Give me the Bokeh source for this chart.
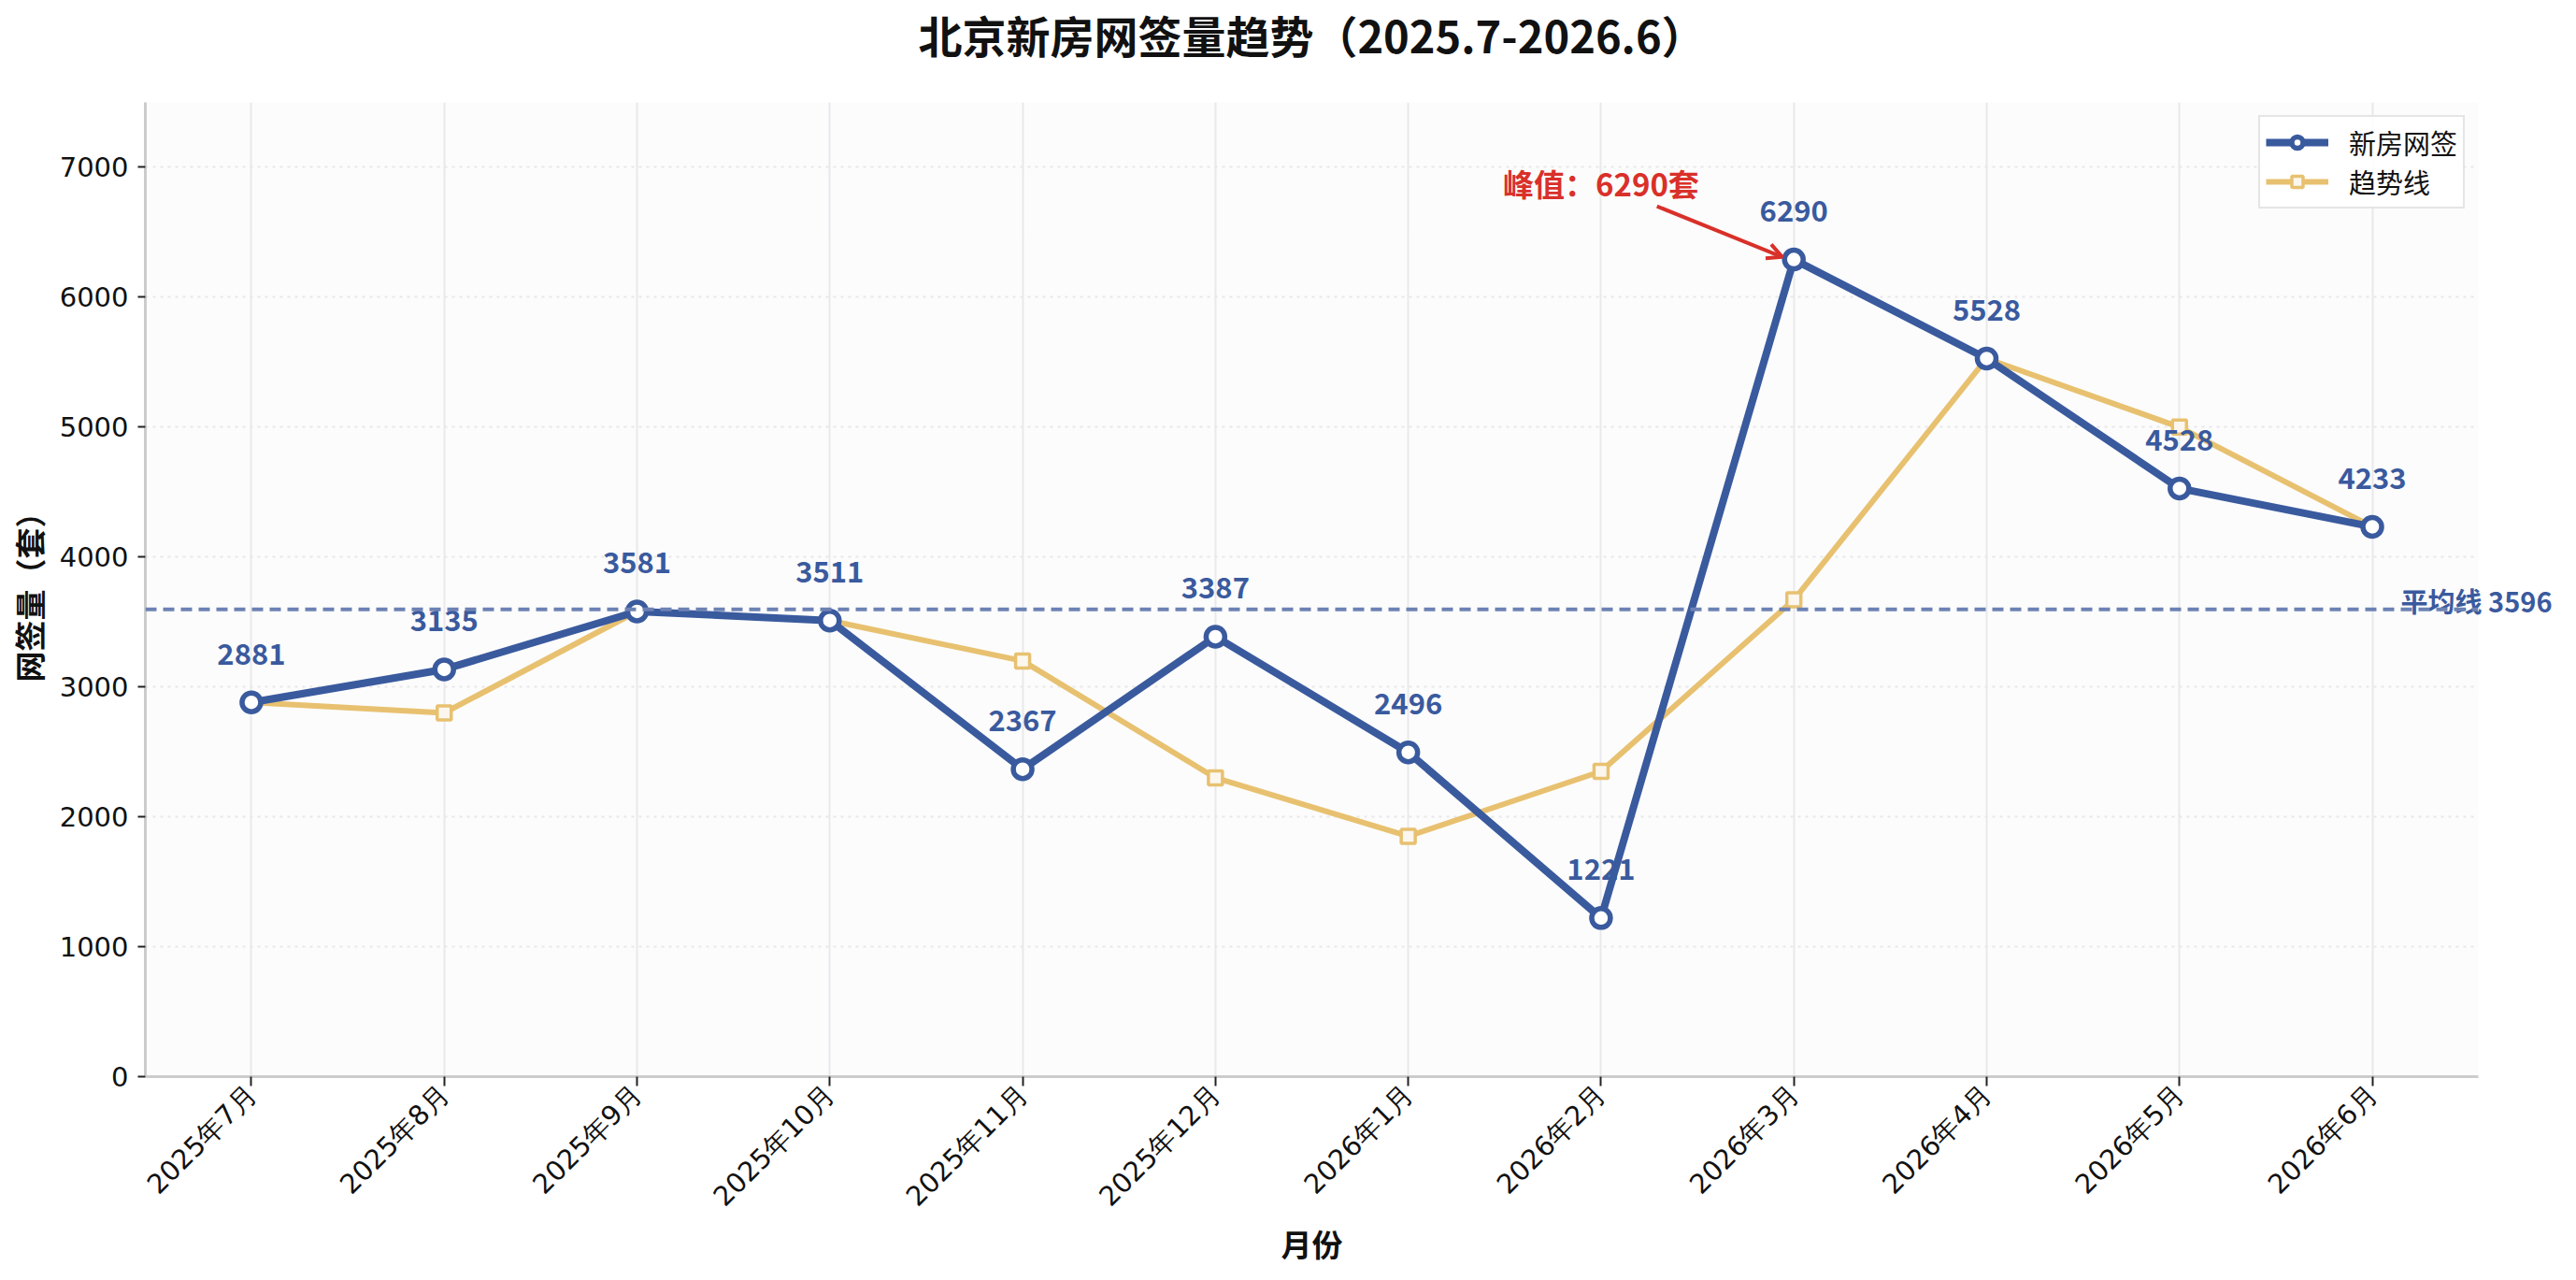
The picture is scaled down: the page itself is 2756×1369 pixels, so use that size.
import math
from bokeh.plotting import figure
from bokeh.models import (ColumnDataSource, FixedTicker, Span, Label, Arrow,
                          OpenHead, Legend, LegendItem, Range1d, LinearAxis,
                          Title)
from bokeh.core.properties import value
from bokeh.embed import file_html
from bokeh.resources import INLINE

# Monthly data
months = ["2025年7月", "2025年8月", "2025年9月", "2025年10月", "2025年11月",
          "2025年12月", "2026年1月", "2026年2月", "2026年3月", "2026年4月",
          "2026年5月", "2026年6月"]
signings = [2881, 3135, 3581, 3511, 2367, 3387, 2496, 1221, 6290, 5528, 4528, 4233]
trend = [2881, 2800, 3581, 3511, 3200, 2300, 1850, 2350, 3670, 5528, 5000, 4233]
y_ticks = [0, 1000, 2000, 3000, 4000, 5000, 6000, 7000]

title_text = "北京新房网签量趋势（2025.7-2026.6）"
x_title = "月份"
y_title = "网签量（套）"
series_names = ["新房网签", "趋势线"]

BLUE = "#3A5A9E"
GOLD = "#E8C170"
RED = "#D9302A"
CJK = "Noto Sans CJK SC"

idx = list(range(len(months)))
avg = sum(signings) / len(signings)
peak_i = max(idx, key=lambda i: signings[i])

src = ColumnDataSource(dict(x=idx, y=signings, t=trend,
                            lbl=[str(v) for v in signings]))

p = figure(width=2756, height=1369, output_backend="svg", toolbar_location=None,
           x_range=Range1d(-0.55, 11.55), y_range=Range1d(0, 7500),
           min_border_left=155, min_border_right=105, min_border_top=109,
           min_border_bottom=218)
p.outline_line_color = None
p.background_fill_color = "#FCFCFC"
p.border_fill_color = "white"

# blank band between the title and the plot area
p.add_layout(Title(text=" ", text_font_size="10px", standoff=24), "above")

# title
p.title.text = title_text
p.title.align = "center"
p.title.vertical_align = "top"
p.title.text_font = CJK
p.title.text_font_style = "bold"
p.title.text_font_size = "47px"
p.title.text_color = "#111111"
p.title.standoff = 0

# grids
p.xgrid.grid_line_color = "#E9E9EC"
p.xgrid.grid_line_width = 2
p.ygrid.grid_line_color = "#E8E8E8"
p.ygrid.grid_line_width = 2
p.ygrid.grid_line_dash = "3 5"

# axes
for ax in (p.xaxis[0], p.yaxis[0]):
    ax.axis_line_color = "#CCCCCC"
    ax.axis_line_width = 3
    ax.major_tick_line_color = "#222222"
    ax.major_tick_line_width = 2
    ax.major_tick_in = 0
    ax.minor_tick_line_color = None
    ax.major_label_text_font = "DejaVu Sans"
    ax.major_label_text_font_size = "29px"
    ax.major_label_text_color = "#111111"
    ax.axis_label_text_font = CJK
    ax.axis_label_text_font_style = "bold"
    ax.axis_label_text_font_size = "33px"
    ax.axis_label_text_color = "#111111"

p.xaxis.ticker = FixedTicker(ticks=idx)
p.xaxis.major_label_overrides = {i: m for i, m in enumerate(months)}
p.xaxis.major_label_orientation = math.pi / 4
p.xaxis.major_tick_out = 10
p.xaxis.major_label_standoff = 4
p.xaxis.axis_label = x_title
p.xaxis.axis_label_standoff = -6

p.yaxis.ticker = FixedTicker(ticks=y_ticks)
p.yaxis.major_tick_out = 8
p.yaxis.major_label_standoff = 10
p.yaxis.axis_label = y_title
p.yaxis.axis_label_standoff = 6

# average line
p.add_layout(Span(location=avg, dimension="width", line_color="#6D82B3",
                  line_width=4, line_dash="12 7"))

# average label, carried by a right-hand axis so it can run past the frame
avg_tick = round(avg) + 70  # sit the text just above the dashed line
avg_axis = LinearAxis(ticker=FixedTicker(ticks=[avg_tick]),
                      major_label_overrides={avg_tick: f"平均线 {round(avg)}"},
                      axis_line_color=None, major_tick_line_color=None,
                      minor_tick_line_color=None, major_tick_out=0,
                      major_label_standoff=-83,
                      major_label_text_font=CJK,
                      major_label_text_font_style="bold",
                      major_label_text_font_size="29px",
                      major_label_text_color=BLUE)
p.add_layout(avg_axis, "right")

# trend series
g_line = p.line("x", "t", source=src, line_color=GOLD, line_width=6)
g_pts = p.scatter("x", "t", source=src, marker="square", size=15,
                  line_color=GOLD, line_width=3.5, fill_color="#FBF7EF")

# main series
b_line = p.line("x", "y", source=src, line_color=BLUE, line_width=8)
b_pts = p.scatter("x", "y", source=src, marker="circle", size=20,
                  line_color=BLUE, line_width=5.5, fill_color="white")

# value labels
p.text("x", "y", text="lbl", source=src, text_align="center",
       text_baseline="alphabetic", y_offset=-52,
       text_font=value(CJK), text_font_style="bold",
       text_font_size="31px", text_color=BLUE)

# peak annotation
p.add_layout(Label(x=peak_i - 1, y=6880, text=f"峰值：{signings[peak_i]}套",
                   text_font=CJK, text_font_style="bold", text_font_size="33px",
                   text_color=RED, text_align="center", text_baseline="middle"))
p.add_layout(Arrow(x_start=peak_i - 0.71, y_start=6700,
                   x_end=peak_i - 0.06, y_end=signings[peak_i] + 20,
                   line_color=RED, line_width=4,
                   end=OpenHead(size=16, line_color=RED, line_width=4)))

# legend
legend = Legend(items=[LegendItem(label=series_names[0], renderers=[b_line, b_pts]),
                       LegendItem(label=series_names[1], renderers=[g_line, g_pts])],
                location="top_right", margin=14, padding=6, spacing=0,
                glyph_width=67, glyph_height=30, label_height=30,
                label_standoff=22, label_text_font=CJK,
                label_text_font_size="29px", label_text_color="#111111",
                border_line_color="#CCCCCC", border_line_width=2,
                background_fill_color="white", background_fill_alpha=0.9)
p.add_layout(legend)

open("out.html", "w").write(file_html(p, INLINE))
